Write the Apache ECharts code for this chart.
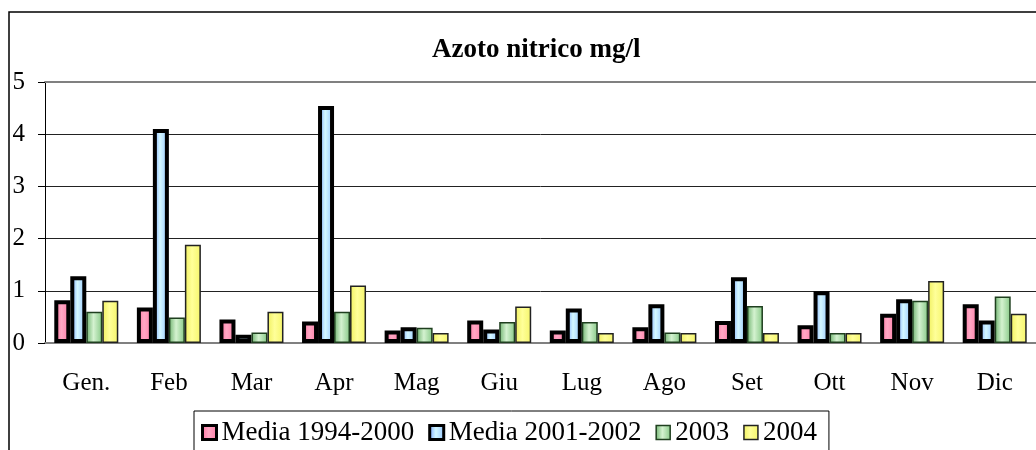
<!DOCTYPE html>
<html>
<head>
<meta charset="utf-8">
<script src="https://cdn.jsdelivr.net/npm/echarts@6/dist/echarts.min.js"></script>
<style>
  html, body { margin: 0; padding: 0; background: #fff; }
  #chart { width: 1036px; height: 450px; }
</style>
</head>
<body>
<div id="chart"></div>
<script>
// mesi e valori
const months = ["Gen.", "Feb", "Mar", "Apr", "Mag", "Giu", "Lug", "Ago", "Set", "Ott", "Nov", "Dic"];
const seriesNames = ["Media 1994-2000", "Media 2001-2002", "2003", "2004"];
const media9400 = [0.82, 0.68, 0.45, 0.41, 0.24, 0.43, 0.24, 0.30, 0.42, 0.34, 0.56, 0.74];
const media0102 = [1.28, 4.10, 0.16, 4.54, 0.30, 0.26, 0.66, 0.74, 1.26, 0.99, 0.84, 0.43];
const anno2003 = [0.60, 0.49, 0.20, 0.60, 0.29, 0.40, 0.40, 0.20, 0.71, 0.19, 0.81, 0.89];
const anno2004 = [0.81, 1.88, 0.60, 1.10, 0.19, 0.70, 0.19, 0.19, 0.19, 0.19, 1.19, 0.56];
const yTicks = [0, 1, 2, 3, 4, 5];

const font = "'Liberation Serif', 'DejaVu Serif', serif";

function grad(left, mid, right) {
  return {
    type: "linear", x: 0, y: 0, x2: 1, y2: 0,
    colorStops: [
      { offset: 0, color: left },
      { offset: 0.45, color: mid },
      { offset: 1, color: right }
    ]
  };
}

const styles = [
  { color: grad("#ff6f9f", "#ffa8c4", "#ff7aa6"), borderColor: "#000", borderWidth: 4 },
  { color: grad("#6f9cff", "#d4f8ff", "#8fc0ff"), borderColor: "#000", borderWidth: 4 },
  { color: grad("#6fb36f", "#d4f2d0", "#86c886"), borderColor: "#1f3f1f", borderWidth: 1.5 },
  { color: grad("#f0f060", "#ffff99", "#f5f56a"), borderColor: "#222", borderWidth: 1.5 }
];
const values = [media9400, media0102, anno2003, anno2004];

const chart = echarts.init(document.getElementById("chart"));
chart.setOption({
  animation: false,
  title: {
    text: "Azoto nitrico mg/l",
    left: 427,
    top: 32,
    textStyle: { fontFamily: font, fontSize: 27, fontWeight: "bold", color: "#000" }
  },
  graphic: [{
    type: "rect",
    shape: { x: 9, y: 12, width: 1200, height: 600 },
    style: { fill: "none", stroke: "#000", lineWidth: 1.5 },
    silent: true,
    z: -10
  }],
  legend: {
    data: seriesNames.map((name, i) => ({
      name: name,
      icon: "rect",
      itemStyle: { borderWidth: i < 2 ? 3 : 1.5, borderColor: styles[i].borderColor }
    })),
    left: 194,
    top: 411,
    padding: [8, 12, 30, 7],
    itemWidth: 14,
    itemHeight: 14,
    itemGap: 14,
    borderColor: "#000",
    borderWidth: 1,
    textStyle: { fontFamily: font, fontSize: 27, color: "#000" }
  },
  grid: { left: 45, top: 82, right: 0, bottom: 107, containLabel: false },
  xAxis: [{
    type: "category",
    data: months,
    axisLine: { lineStyle: { color: "#808080", width: 2 } },
    axisTick: { length: 8, lineStyle: { color: "#000" } },
    axisLabel: { margin: 28, fontFamily: font, fontSize: 25, color: "#000" },
    splitLine: { show: false }
  }, {
    type: "category",
    position: "top",
    data: months,
    axisLine: { show: true, lineStyle: { color: "#808080", width: 2 } },
    axisTick: { show: false },
    axisLabel: { show: false }
  }],
  yAxis: {
    type: "value",
    min: yTicks[0],
    max: yTicks[yTicks.length - 1],
    interval: 1,
    axisLine: { show: true, lineStyle: { color: "#000" } },
    axisTick: { show: true, length: 7, lineStyle: { color: "#000" } },
    axisLabel: { margin: 20, fontFamily: font, fontSize: 25, color: "#000" },
    splitLine: { lineStyle: { color: "#222", width: 1 } }
  },
  series: seriesNames.map((name, i) => ({
    name: name,
    type: "bar",
    data: values[i],
    barWidth: 16,
    barGap: "0%",
    itemStyle: styles[i]
  }))
});
</script>
</body>
</html>
